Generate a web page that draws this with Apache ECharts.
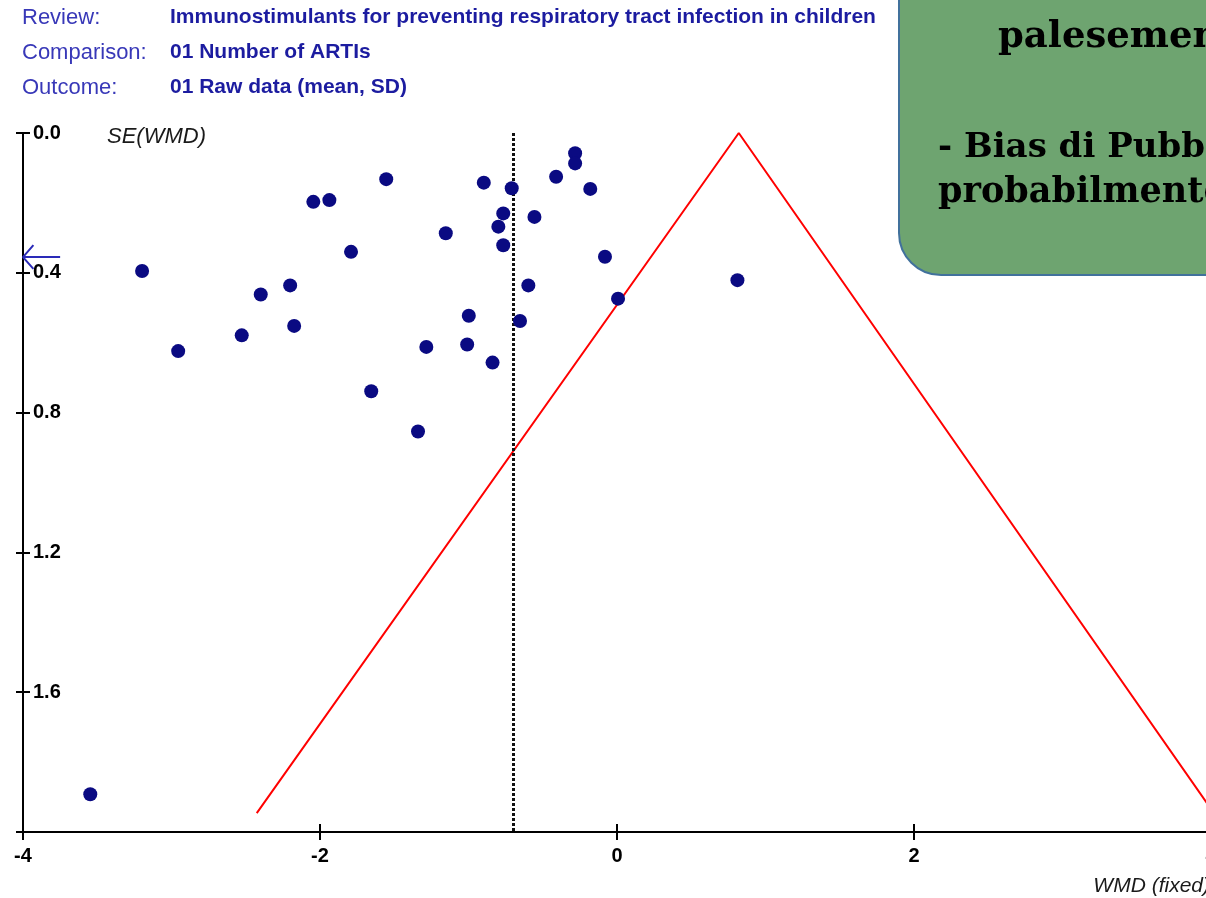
<!DOCTYPE html>
<html>
<head>
<meta charset="utf-8">
<script src="https://cdn.jsdelivr.net/npm/echarts@6/dist/echarts.min.js"></script>
<style>
html,body{margin:0;padding:0;background:#fff;}
#chart{width:1206px;height:898px;}
</style>
</head>
<body>
<div id="chart"></div>
<script>
// Study points: [WMD, SE(WMD)]
const studyWMD = [-3.547,-3.198,-2.955,-2.527,-2.399,-2.201,-2.174,-2.045,-1.937,-1.791,-1.655,-1.554,-1.340,-1.284,-1.153,-1.009,-0.998,-0.897,-0.838,-0.799,-0.766,-0.766,-0.709,-0.653,-0.597,-0.556,-0.410,-0.282,-0.282,-0.180,-0.081,0.007,0.811];
const studySE  = [1.892,0.395,0.624,0.579,0.462,0.436,0.552,0.197,0.192,0.340,0.739,0.132,0.854,0.612,0.287,0.605,0.523,0.142,0.657,0.268,0.230,0.321,0.158,0.538,0.436,0.240,0.125,0.058,0.087,0.160,0.354,0.474,0.421];
const pooledWMD = -0.70;
// hand-drawn red triangle (annotation) vertices
const triangleX = [-2.426, 0.82, 4.02];
const triangleY = [1.946, 0.0, 1.946];
// blue arrow on SE axis
const arrowSE = 0.355;
const xTicks = [-4, -2, 0, 2, 4];
const yTicks = [0.0, 0.4, 0.8, 1.2, 1.6];
const headerLabels = ['Review:', 'Comparison:', 'Outcome:'];
const headerValues = ['Immunostimulants for preventing respiratory tract infection in children', '01 Number of ARTIs', '01 Raw data (mean, SD)'];
const noteLines = ['palesemente', '- Bias di Pubblicazione', 'probabilmente presente'];

const chart = echarts.init(document.getElementById('chart'), null, {renderer: 'canvas'});
const points = studyWMD.map((x, i) => [x, studySE[i]]);
const tri = triangleX.map((x, i) => [x, triangleY[i]]);

const xBase = {
  type: 'value', min: xTicks[0], max: xTicks[xTicks.length - 1], interval: 2,
  splitLine: {show: false}
};
const yBase = {
  type: 'value', min: 0, max: 2.0, interval: 0.4, inverse: true,
  splitLine: {show: false}
};
const axisFont = '"Liberation Sans", Arial, sans-serif';

const headerGraphics = [];
headerLabels.forEach((t, i) => {
  headerGraphics.push({type: 'text', left: 22, top: 7 + i * 35, style: {text: t, fill: '#3838b8', font: '22px "Liberation Sans", Arial, sans-serif'}});
  headerGraphics.push({type: 'text', left: 170, top: 7 + i * 35, style: {text: headerValues[i], fill: '#1c1ca0', font: 'bold 21px "Liberation Sans", Arial, sans-serif'}});
});

const option = {
  animation: false,
  backgroundColor: '#ffffff',
  grid: {left: 23, top: 133, width: 1188, bottom: 66, containLabel: false, outerBoundsMode: 'none'},
  xAxis: [
    Object.assign({}, xBase, {
      position: 'bottom',
      axisLine: {show: true, onZero: false, lineStyle: {color: '#000', width: 2}},
      axisTick: {show: true, inside: false, length: 8, lineStyle: {color: '#000', width: 2}},
      axisLabel: {show: true, margin: 14, color: '#000', fontSize: 20, fontWeight: 'bold', fontFamily: axisFont,
        formatter: v => String(v)}
    }),
    Object.assign({}, xBase, {
      position: 'bottom',
      axisLine: {show: false, onZero: false},
      axisTick: {show: true, inside: true, length: 8, lineStyle: {color: '#000', width: 2}},
      axisLabel: {show: false}
    })
  ],
  yAxis: [
    Object.assign({}, yBase, {
      position: 'left',
      axisLine: {show: true, onZero: false, lineStyle: {color: '#000', width: 2}},
      axisTick: {show: true, inside: false, length: 7, lineStyle: {color: '#000', width: 2}},
      axisLabel: {show: true, inside: true, margin: 10, color: '#000', fontSize: 20, fontWeight: 'bold', fontFamily: axisFont,
        formatter: v => (v >= 1.99 ? '' : v.toFixed(1))}
    }),
    Object.assign({}, yBase, {
      position: 'left',
      axisLine: {show: false, onZero: false},
      axisTick: {show: true, inside: true, length: 7, lineStyle: {color: '#000', width: 2}},
      axisLabel: {show: false}
    })
  ],
  series: [
    {
      type: 'line', xAxisIndex: 0, yAxisIndex: 0, data: [],
      markLine: {
        silent: true, symbol: ['none', 'none'], label: {show: false},
        lineStyle: {color: '#111', width: 3, type: [3, 2]},
        data: [{xAxis: pooledWMD}]
      }
    },
    {
      type: 'line', data: tri, showSymbol: false, symbol: 'none', clip: false,
      lineStyle: {color: '#ff0000', width: 2}, z: 3
    },
    {
      type: 'line', data: [[-3.75, arrowSE], [-4, arrowSE]], symbol: 'none', clip: false,
      lineStyle: {color: '#2a2ab8', width: 2}, z: 4
    },
    {
      type: 'line', data: [[-3.93, arrowSE - 0.034], [-4, arrowSE], [-3.93, arrowSE + 0.034]], symbol: 'none', clip: false,
      lineStyle: {color: '#2a2ab8', width: 2}, z: 4
    },
    {
      type: 'scatter', data: points, symbol: 'circle', symbolSize: 14,
      itemStyle: {color: '#0a0a82', opacity: 1}, z: 5
    }
  ],
  graphic: headerGraphics.concat([
    {type: 'text', left: 107, top: 126, style: {text: 'SE(WMD)', fill: '#1a1a1a', font: 'italic 22px "Liberation Sans", Arial, sans-serif'}},
    {type: 'text', right: -4, top: 876, style: {text: 'WMD (fixed)', fill: '#1a1a1a', font: 'italic 21px "Liberation Sans", Arial, sans-serif'}},
    {type: 'rect', z: 100, shape: {x: 899, y: -60, width: 420, height: 335, r: 42},
      style: {fill: '#6ea470', stroke: '#41719c', lineWidth: 2}},
    {type: 'text', z: 101, x: 998, y: 19, style: {text: noteLines[0], fill: '#000', font: 'bold 37px "DejaVu Serif", serif'}},
    {type: 'text', z: 101, x: 938, y: 131, style: {text: noteLines[1], fill: '#000', font: 'bold 34px "DejaVu Serif", serif'}},
    {type: 'text', z: 101, x: 938, y: 175, style: {text: noteLines[2], fill: '#000', font: 'bold 35px "DejaVu Serif", serif'}}
  ])
};
chart.setOption(option);
</script>
</body>
</html>
